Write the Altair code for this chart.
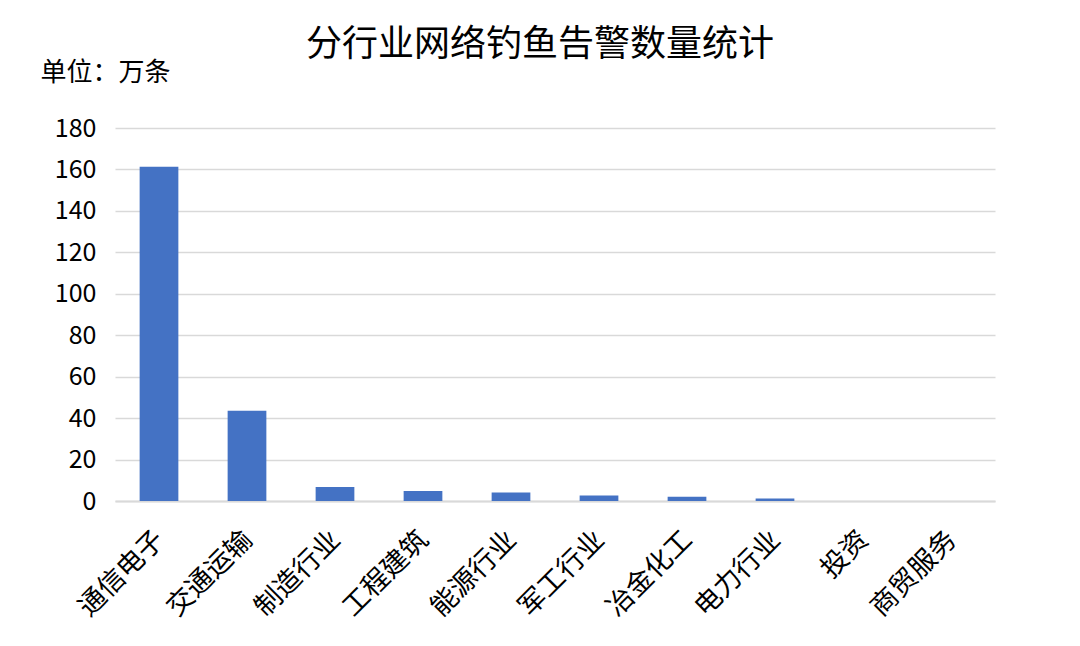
import altair as alt
import pandas as pd

categories = ["通信电子", "交通运输", "制造行业", "工程建筑", "能源行业", "军工行业", "冶金化工", "电力行业", "投资", "商贸服务"]
values = [161.3, 43.5, 6.8, 4.8, 4.1, 2.7, 2.1, 1.2, 0, 0]

df = pd.DataFrame({"行业": categories, "数量": values})

FONT = "Noto Sans CJK SC"

chart = alt.Chart(df).mark_bar(color="#4472C4").encode(
    x=alt.X("行业:N", sort=categories,
            scale=alt.Scale(paddingInner=0.56, paddingOuter=0.28),
            axis=alt.Axis(title=None, labelAngle=-45, labelFontSize=27, labelFont=FONT,
                          labelColor="#000000", labelPadding=25, labelOffset=-8,
                          ticks=False, domainColor="#d9d9d9", domainWidth=2)),
    y=alt.Y("数量:Q", scale=alt.Scale(domain=[0, 180], nice=False),
            axis=alt.Axis(values=list(range(0, 181, 20)), title="单位：万条",
                          titleAngle=0, titleX=-75, titleY=-56, titleAlign="left",
                          titleBaseline="middle", titleFontSize=26, titleFont=FONT,
                          titleFontWeight="normal", titleColor="#000000",
                          labelFontSize=25, labelFont=FONT, labelColor="#000000",
                          labelPadding=19, ticks=False, domain=False,
                          gridColor="#d9d9d9", gridWidth=1.5)),
).properties(
    width=880, height=373,
    title=alt.TitleParams("分行业网络钓鱼告警数量统计", fontSize=36, font=FONT,
                          fontWeight="normal", color="#000000", anchor="middle",
                          dx=-15, offset=-5),
    autosize=alt.AutoSizeParams(type="none"),
    padding={"left": 107, "top": 120, "right": 70, "bottom": 130},
).configure(background="#ffffff").configure_view(stroke=None)

chart.save("out.html", embed_options={"renderer": "svg", "actions": False})
